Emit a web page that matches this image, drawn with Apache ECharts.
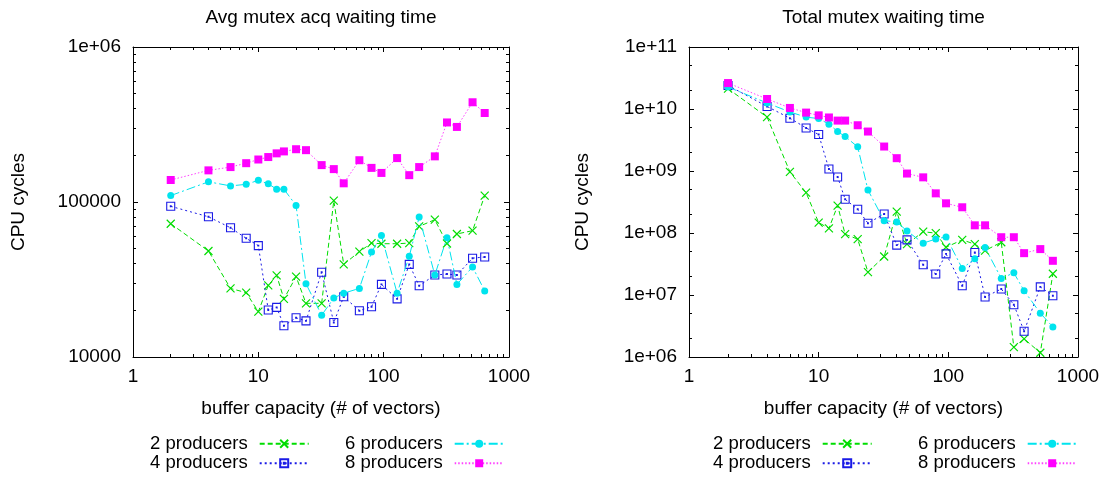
<!DOCTYPE html>
<html>
<head>
<meta charset="utf-8">
<script src="https://cdn.jsdelivr.net/npm/echarts@6/dist/echarts.min.js"></script>
<style>
html,body{margin:0;padding:0;background:#fff;}
#chart{width:1108px;height:477px;}
</style>
</head>
<body>
<div id="chart"></div>
<script>
// ---------- data ----------
const capacities = [2,4,6,8,10,12,14,16,20,24,32,40,48,64,80,96,128,160,192,256,320,384,512,640];
const seriesNames = ['2 producers','4 producers','6 producers','8 producers'];

// Avg mutex acq waiting time (CPU cycles)
const avgP2 = [72400,48300,27700,26000,19600,29000,33600,23700,33000,22200,22200,102000,39600,47800,54300,53800,53800,54300,69600,76900,54000,62200,65300,110000];
const avgP4 = [93800,80300,68200,58300,52300,20100,20900,15900,17900,17100,35200,16700,24500,19900,21100,29400,23700,39600,28800,33800,34300,33800,43400,44200];
const avgP6 = [110000,135000,127000,130000,138000,131000,121000,121000,95000,29700,18600,24000,25800,27700,47500,60700,25800,44600,80000,33800,58900,29400,38100,26700];
const avgP8 = [138700,160000,168000,178000,188000,195000,206000,212000,219000,216000,173000,163000,132000,186000,166000,154000,192000,149000,168000,197000,326000,305000,440000,375000];

// Total mutex waiting time (CPU cycles)
const totP2 = [2.13e10,7.4e9,9.7e8,4.47e8,1.47e8,1.19e8,2.76e8,9.57e7,7.95e7,2.34e7,4.18e7,2.21e8,6.6e7,1.05e8,9.93e7,5.9e7,7.75e7,6.6e7,5.2e7,7.1e7,1.44e6,1.96e6,1.17e6,2.2e7];
const totP4 = [2.4e10,1.1e10,7.1e9,4.95e9,3.87e9,1.08e9,8.0e8,3.5e8,2.41e8,1.44e8,2.03e8,6.37e7,7.75e7,3.07e7,2.18e7,4.61e7,1.41e7,4.84e7,9.3e6,1.25e7,6.98e6,2.6e6,1.35e7,9.75e6];
const totP6 = [2.26e10,1.25e10,8.95e9,7.4e9,7.0e9,5.7e9,4.33e9,3.6e9,2.45e9,4.93e8,1.58e8,1.51e8,1.08e8,6.86e7,8.0e7,8.65e7,2.68e7,3.84e7,5.82e7,1.85e7,2.28e7,1.17e7,5.1e6,3.06e6];
const totP8 = [2.62e10,1.45e10,1.04e10,8.75e9,7.9e9,7.3e9,6.5e9,6.5e9,5.47e9,4.33e9,2.48e9,1.61e9,9.1e8,7.9e8,4.36e8,3.01e8,2.6e8,1.33e8,1.33e8,8.55e7,8.55e7,4.73e7,5.5e7,3.56e7];

// ticks
const xTicks = [1,10,100,1000];
const xTickLabels = ['1','10','100','1000'];
const avgYTicks = [1e4,1e5,1e6];
const avgYTickLabels = ['10000','100000','1e+06'];
const totYTicks = [1e6,1e7,1e8,1e9,1e10,1e11];
const totYTickLabels = ['1e+06','1e+07','1e+08','1e+09','1e+10','1e+11'];
const fullMinorMult = [2,3,4,5,6,7,8,9];
const sparseMinorMult = [2,5];

const titles = ['Avg mutex acq waiting time','Total mutex waiting time'];
const xName = 'buffer capacity (# of vectors)';
const yName = 'CPU cycles';

// ---------- helpers ----------
function minorsOf(majors, mults){
  const out=[];
  for(let i=0;i<majors.length-1;i++) mults.forEach(m=>out.push(majors[i]*m));
  return out;
}
function labelLookup(ticks, labels){
  return function(v){
    const e=Math.round(Math.log10(v));
    for(let i=0;i<ticks.length;i++){ if(Math.round(Math.log10(ticks[i]))===e) return labels[i]; }
    return '';
  };
}
const FONT = "'Liberation Sans', Arial, Helvetica, sans-serif";
const FS = 19;

const grids = [
  {left:133, top:47, width:376, height:310},
  {left:689, top:47, width:389, height:310}
];

const xAxes=[], yAxes=[];
function addAxes(list, dim, gi, min, max, majors, labels, minors, nameGap, labelMargin){
  const isX = dim==='x';
  const posMain = isX?'bottom':'left', posOpp = isX?'top':'right';
  const base = {type:'log', logBase:10, min:min, max:max, gridIndex:gi, splitLine:{show:false}, axisPointer:{show:false}};
  const lineStyle = {color:'#000', width:1};
  list.push(Object.assign({}, base, {
    position: posMain,
    name: isX?xName:yName, nameLocation:'middle', nameGap:nameGap,
    nameRotate: isX?0:90,
    nameTextStyle:{fontFamily:FONT, fontSize:FS, color:'#000'},
    axisLine:{show:true, onZero:false, lineStyle:lineStyle},
    axisTick:{show:true, inside:true, length:5, lineStyle:lineStyle, customValues:majors},
    axisLabel:{show:true, customValues:majors, formatter:labelLookup(majors,labels), margin:labelMargin, fontFamily:FONT, fontSize:FS, color:'#000', showMinLabel:true, showMaxLabel:true}
  }));
  list.push(Object.assign({}, base, {
    position: posOpp,
    axisLine:{show:true, onZero:false, lineStyle:lineStyle},
    axisTick:{show:true, inside:true, length:5, lineStyle:lineStyle, customValues:majors},
    axisLabel:{show:false}
  }));
  [posMain,posOpp].forEach(p=>{
    list.push(Object.assign({}, base, {
      position: p,
      axisLine:{show:false, onZero:false},
      axisTick:{show:true, inside:true, length:3, lineStyle:lineStyle, customValues:minors},
      axisLabel:{show:false}
    }));
  });
}
addAxes(xAxes,'x',0,1,1000,xTicks,xTickLabels,minorsOf(xTicks,fullMinorMult),42,10);
addAxes(yAxes,'y',0,1e4,1e6,avgYTicks,avgYTickLabels,minorsOf(avgYTicks,fullMinorMult),105,12);
addAxes(xAxes,'x',1,1,1000,xTicks,xTickLabels,minorsOf(xTicks,fullMinorMult),42,10);
addAxes(yAxes,'y',1,1e6,1e11,totYTicks,totYTickLabels,minorsOf(totYTicks,sparseMinorMult),97,12);

const styles = [
  {color:'#00dd00', dash:[5,3], symbol:'path://M0,0L10,10M10,0L0,10', size:8, filled:false, bw:1.2},
  {color:'#1a1ae6', dash:[2,3], symbol:'path://M0,0H10V10H0ZM4.5,4.5H5.5V5.5H4.5Z', size:8, filled:false, bw:1.1},
  {color:'#00e4ee', dash:[9,3,2,3], symbol:'circle', size:7, filled:true, bw:0},
  {color:'#ff00ff', dash:[1.5,2], symbol:'rect', size:8, filled:true, bw:0}
];

const avgData=[avgP2,avgP4,avgP6,avgP8];
const totData=[totP2,totP4,totP6,totP8];
const series=[];
[avgData,totData].forEach((set,gi)=>{
  set.forEach((vals,si)=>{
    const st=styles[si];
    series.push({
      type:'line', name:seriesNames[si],
      xAxisIndex: gi*4, yAxisIndex: gi*4,
      data: capacities.map((c,i)=>[c,vals[i]]),
      symbol: st.symbol, symbolSize: st.size, showSymbol:true, showAllSymbol:true,
      lineStyle:{color:st.color, width:1, type:st.dash, opacity: si===3?0.75:1},
      itemStyle: st.filled ? {color:st.color, borderWidth:0} : {color:'none', borderColor:st.color, borderWidth:st.bw},
      emphasis:{disabled:true},
      animation:false, z: 2+si
    });
  });
});

function legendAt(left, names){
  return {
    orient:'vertical', align:'right', left:left, top:434, padding:0, itemGap:0,
    itemWidth:49, itemHeight:10, selectedMode:false,
    data:names,
    textStyle:{fontFamily:FONT, fontSize:18.5, color:'#000', lineHeight:19.5, padding:[0,7,0,0]}
  };
}

const option = {
  backgroundColor:'#fff',
  animation:false,
  grid: grids,
  xAxis: xAxes,
  yAxis: yAxes,
  legend: [
    legendAt(150, ['2 producers','4 producers']),
    legendAt(345, ['6 producers','8 producers']),
    legendAt(713, ['2 producers','4 producers']),
    legendAt(918, ['6 producers','8 producers'])
  ],
  graphic: [
    {type:'text', x:321, y:18, style:{text:titles[0], font:FS+'px '+FONT, fill:'#000', align:'center', verticalAlign:'middle'}},
    {type:'text', x:883.5, y:18, style:{text:titles[1], font:FS+'px '+FONT, fill:'#000', align:'center', verticalAlign:'middle'}}
  ],
  series: series
};

const chart = echarts.init(document.getElementById('chart'), null, {renderer:'canvas'});
chart.setOption(option);
</script>
</body>
</html>
